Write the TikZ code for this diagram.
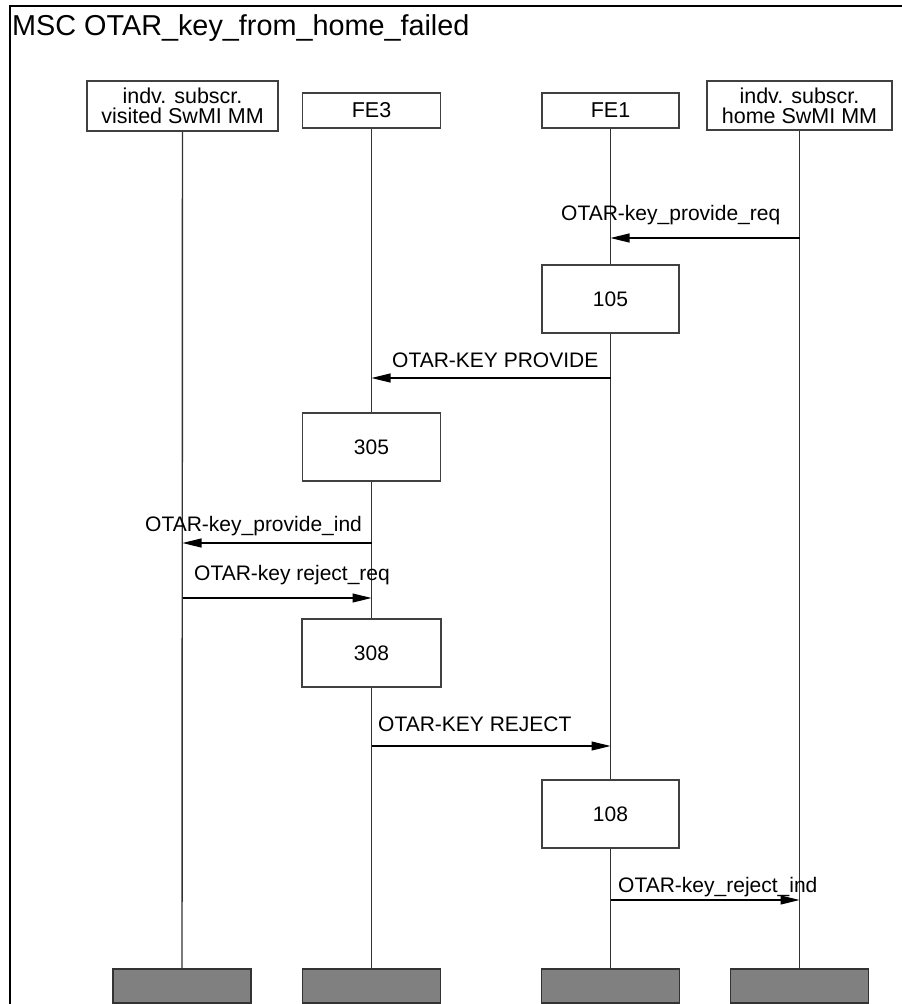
\documentclass[tikz,border=0pt]{standalone}
\usepackage{fontspec}
\setmainfont{Liberation Sans}
\usetikzlibrary{arrows.meta}

\begin{document}
\begin{tikzpicture}[x=1pt,y=-1pt,>={Triangle[length=19pt,width=9pt]},
  ent/.style={draw=black!75,line width=1.2pt,fill=white,inner sep=0pt,align=center,
    font=\fontsize{21.5}{20}\selectfont,minimum height=#1},
  ent/.default=35pt,
  act/.style={draw=black!75,line width=1.2pt,fill=white,inner sep=0pt,
    minimum height=68pt,font=\fontsize{21}{21}\selectfont},
  stop/.style={draw=black!80,line width=1.2pt,fill=black!50,minimum width=138pt,minimum height=34pt,inner sep=0pt},
  life/.style={draw=black!80,line width=1.4pt},
  msg/.style={->,line width=1.1pt},
  lbl/.style={anchor=base west,inner sep=0pt,font=\fontsize{21}{21}\selectfont}]
\useasboundingbox (0,0) rectangle (902,1004);
\draw[line width=2pt] (10,1004) -- (10,6) -- (902,6);
\node[anchor=base west,inner sep=0pt,font=\fontsize{28.8}{30}\selectfont] (title) at (12,35) {MSC OTAR\_key\_from\_home\_failed};
% instances
\node[ent=50pt,minimum width=191pt] (vis) at (182.5,106) {indv. subscr.\\visited SwMI MM};
\node[ent,minimum width=138pt] (fe3) at (371.5,110.5) {FE3};
\node[ent,minimum width=137pt] (fe1) at (610.5,110.5) {FE1};
\node[ent=49pt,minimum width=185pt] (home) at (799.5,105.5) {indv. subscr.\\home SwMI MM};
\node[stop] (visend) at (182,986) {};
\node[stop] (fe3end) at (371.5,986) {};
\node[stop] (fe1end) at (610.5,986) {};
\node[stop] (homeend) at (799.5,986) {};
\draw[life] (vis) -- (visend);
\draw[life] (fe3) -- (fe3end);
\draw[life] (fe1) -- (fe1end);
\draw[life] (home) -- (homeend);
% actions
\node[act,minimum width=137pt] (a105) at (610.5,299) {105};
\node[act,minimum width=138pt] (a305) at (371.5,447) {305};
\node[act,minimum width=139pt] (a308) at (371.5,653) {308};
\node[act,minimum width=137pt] (a108) at (610.5,814) {108};
% messages
\draw[msg] (home |- 0,238) -- (fe1 |- 0,238);
\node[lbl] (m1) at (561,220) {OTAR-key\_provide\_req};
\draw[msg] (fe1 |- 0,378) -- (fe3 |- 0,378);
\node[lbl] (m2) at (392,367) {OTAR-KEY PROVIDE};
\draw[msg] (fe3 |- 0,543) -- (vis |- 0,543);
\node[lbl] (m3) at (145,531) {OTAR-key\_provide\_ind};
\draw[msg] (vis |- 0,598) -- (fe3 |- 0,598);
\node[lbl] (m4) at (194,580) {OTAR-key reject\_req};
\draw[msg] (fe3 |- 0,746) -- (fe1 |- 0,746);
\node[lbl] (m5) at (378,731) {OTAR-KEY REJECT};
\draw[msg] (fe1 |- 0,900) -- (home |- 0,900);
\node[lbl] (m6) at (618,892) {OTAR-key\_reject\_ind};
\end{tikzpicture}
\end{document}
